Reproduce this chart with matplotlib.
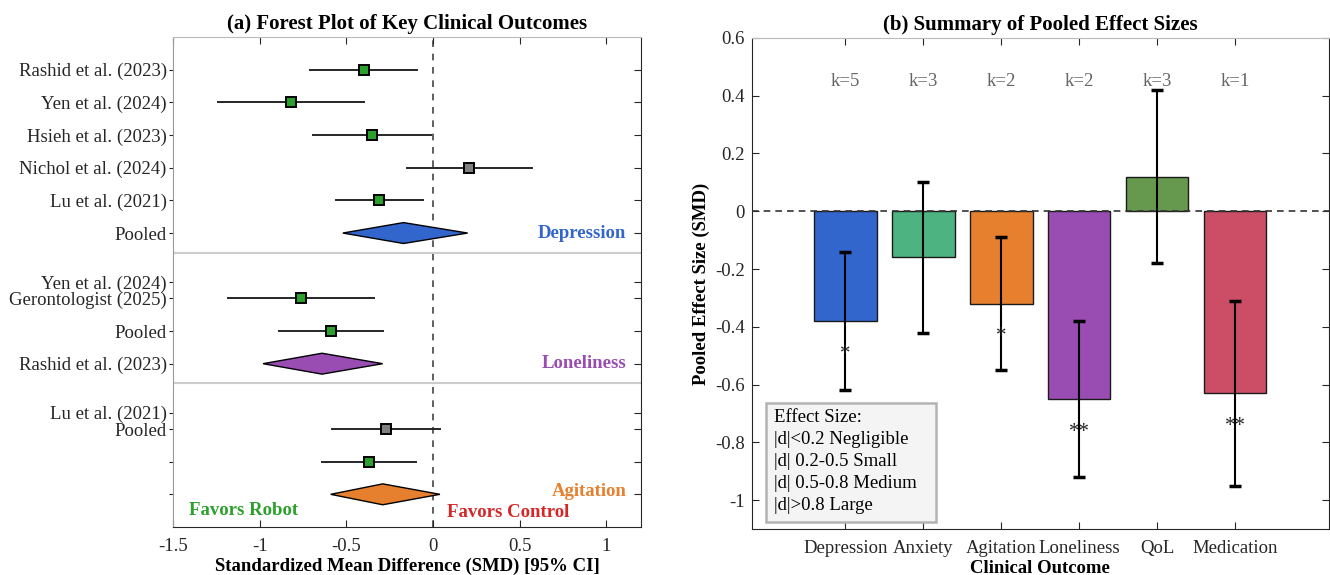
import matplotlib
matplotlib.use("Agg")
import matplotlib.pyplot as plt
from matplotlib.patches import Polygon, Rectangle
import numpy as np

plt.rcParams['font.family'] = ['Liberation Serif', 'DejaVu Serif']

# ---------------- Panel (a) data ----------------
study_rows = [1, 2, 3, 4, 5, 8, 9, 12, 13]
study_smd = [-0.40, -0.82, -0.35, 0.21, -0.31, -0.76, -0.59, -0.27, -0.37]
study_lo = [-0.71, -1.24, -0.69, -0.15, -0.56, -1.18, -0.89, -0.58, -0.64]
study_hi = [-0.09, -0.40, -0.01, 0.57, -0.06, -0.34, -0.29, 0.04, -0.10]
study_sig = [True, True, True, False, True, True, True, False, True]

pooled_rows = [6, 10, 14]
pooled_smd = [-0.17, -0.64, -0.29]
pooled_lo = [-0.52, -0.98, -0.59]
pooled_hi = [0.20, -0.29, 0.04]
pooled_names = ['Depression', 'Loneliness', 'Agitation']
pooled_colors = ['#3366cc', '#994db3', '#e6802e']

ytick_pos = [1, 2, 3, 4, 5, 6, 7.5, 8, 9, 10, 11.5, 12, 13, 14]
ytick_labels = ['Rashid et al. (2023)', 'Yen et al. (2024)', 'Hsieh et al. (2023)',
                'Nichol et al. (2024)', 'Lu et al. (2021)', 'Pooled',
                'Yen et al. (2024)', 'Gerontologist (2025)', 'Pooled',
                'Rashid et al. (2023)', 'Lu et al. (2021)', 'Pooled', '', '']
separators = [6.6, 10.6]
group_label_rows = [6, 10, 13.9]

# ---------------- Panel (b) data ----------------
outcomes = ['Depression', 'Anxiety', 'Agitation', 'Loneliness', 'QoL', 'Medication']
effect = [-0.38, -0.16, -0.32, -0.65, 0.12, -0.63]
ci_low = [-0.62, -0.42, -0.55, -0.92, -0.18, -0.95]
ci_high = [-0.14, 0.10, -0.09, -0.38, 0.42, -0.31]
k_studies = [5, 3, 2, 2, 3, 1]
stars = ['*', '', '*', '**', '', '**']
bar_colors = ['#3366cc', '#4db380', '#e6802e', '#994db3', '#66994d', '#cc4d66']
legend_lines = ['Effect Size:', '|d|<0.2 Negligible', '|d| 0.2-0.5 Small',
                '|d| 0.5-0.8 Medium', '|d|>0.8 Large']

axc = '#262626'
FS = 13.5
fig = plt.figure(figsize=(13.3, 5.75), dpi=100)

# ================= Panel (a) =================
ax1 = fig.add_axes([0.130, 0.0835, 0.352, 0.852])
ax1.set_xlim(-1.5, 1.2)
ax1.set_ylim(15, 0)
ax1.axvline(0, color='#444444', linestyle=(0, (4, 4)), linewidth=1.2, zorder=1)
for s in separators:
    ax1.axhline(s, color='#cccccc', linewidth=1.5, zorder=1)

for r, m, lo, hi, sig in zip(study_rows, study_smd, study_lo, study_hi, study_sig):
    ax1.plot([lo, hi], [r, r], color=axc, linewidth=1.4, zorder=2)
    ax1.plot(m, r, marker='s', markersize=6.5, markerfacecolor='#2ca02c' if sig else '#808080',
             markeredgecolor='black', markeredgewidth=1.4, zorder=3)

for r, m, lo, hi, c, name, gr in zip(pooled_rows, pooled_smd, pooled_lo, pooled_hi,
                                     pooled_colors, pooled_names, group_label_rows):
    ax1.add_patch(Polygon([[lo, r], [m, r - 0.32], [hi, r], [m, r + 0.32]], closed=True,
                          facecolor=c, edgecolor='black', linewidth=1.0, zorder=3))
    ax1.text(1.115, gr, name, color=c, fontsize=FS, fontweight='bold', ha='right', va='center')

ax1.text(-1.09, 14.5, 'Favors Robot', color='#2ca02c', fontsize=FS, fontweight='bold',
         ha='center', va='center')
ax1.text(0.435, 14.56, 'Favors Control', color='#d62728', fontsize=FS, fontweight='bold',
         ha='center', va='center')

ax1.set_yticks(ytick_pos)
ax1.set_yticklabels(ytick_labels)
ax1.set_xticks([-1.5, -1, -0.5, 0, 0.5, 1])
ax1.set_xticklabels(['-1.5', '-1', '-0.5', '0', '0.5', '1'])
ax1.tick_params(direction='in', top=True, right=True, length=5, labelsize=FS,
                colors=axc, width=0.8)
ax1.tick_params(axis='x', pad=8)
ax1.yaxis.set_tick_params(direction='out', length=3, pad=1.5)
# keep right ticks inward
for t in ax1.yaxis.get_major_ticks():
    t.tick2line.set_marker(matplotlib.lines.TICKLEFT)
    t.tick2line.set_markersize(5)
for sp in ax1.spines.values():
    sp.set_color('#262626')
    sp.set_linewidth(0.8)
ax1.spines['top'].set_color('#bbbbbb')
ax1.spines['left'].set_color('#999999')
ax1.set_xlabel('Standardized Mean Difference (SMD) [95% CI]', fontsize=FS,
               fontweight='bold', labelpad=2)
ax1.set_title('(a) Forest Plot of Key Clinical Outcomes', fontsize=15, fontweight='bold', pad=6)

# ================= Panel (b) =================
ax2 = fig.add_axes([0.5654, 0.080, 0.4336, 0.854])
x = np.arange(1, len(outcomes) + 1)
ax2.set_xlim(-0.2, 7.2)
ax2.set_ylim(-1.1, 0.6)
ax2.bar(x, effect, width=0.8, color=bar_colors, edgecolor='#1a1a1a', linewidth=1.0, zorder=2)
ax2.axhline(0, color='#333333', linestyle=(0, (4, 3)), linewidth=1.2, zorder=3)
ax2.errorbar(x, effect, yerr=[np.array(effect) - np.array(ci_low),
                              np.array(ci_high) - np.array(effect)],
             fmt='none', ecolor='black', elinewidth=1.5, capsize=4.5, capthick=2.5, zorder=4)
for xi, e, k, st in zip(x, effect, k_studies, stars):
    ax2.text(xi, 0.45, f'k={k}', color='#666666', fontsize=FS, ha='center', va='center')
    if st:
        ax2.text(xi, e - 0.115, st, color='#222222', fontsize=15, ha='center', va='center',
                 zorder=5)

ax2.add_patch(Rectangle((0.0243, 0.0143), 0.295, 0.2427, transform=ax2.transAxes,
                        facecolor='#f4f4f4', edgecolor='#b3b3b3', linewidth=1.8, zorder=6))
line_y_px = [417, 439, 461.5, 483.5, 505.5]
for txt, yp in zip(legend_lines, line_y_px):
    ax2.text(0.038, (529 - yp) / 491.3, txt, transform=ax2.transAxes, fontsize=FS,
             ha='left', va='center', color='black', zorder=7)

ax2.set_xticks(x)
ax2.set_xticklabels(outcomes)
ax2.set_yticks([-1, -0.8, -0.6, -0.4, -0.2, 0, 0.2, 0.4, 0.6])
ax2.set_yticklabels(['-1', '-0.8', '-0.6', '-0.4', '-0.2', '0', '0.2', '0.4', '0.6'])
ax2.tick_params(direction='in', top=True, right=True, length=5, labelsize=FS,
                colors=axc, width=0.8)
ax2.tick_params(axis='x', pad=8)
ax2.tick_params(axis='y', pad=5)
for sp in ax2.spines.values():
    sp.set_color('#262626')
    sp.set_linewidth(0.8)
ax2.spines['top'].set_color('#bbbbbb')
ax2.set_xlabel('Clinical Outcome', fontsize=FS, fontweight='bold', labelpad=2)
ax2.set_ylabel('Pooled Effect Size (SMD)', fontsize=FS, fontweight='bold', labelpad=4)
ax2.set_title('(b) Summary of Pooled Effect Sizes', fontsize=15, fontweight='bold', pad=6)

fig.savefig('out.png', dpi=100)
